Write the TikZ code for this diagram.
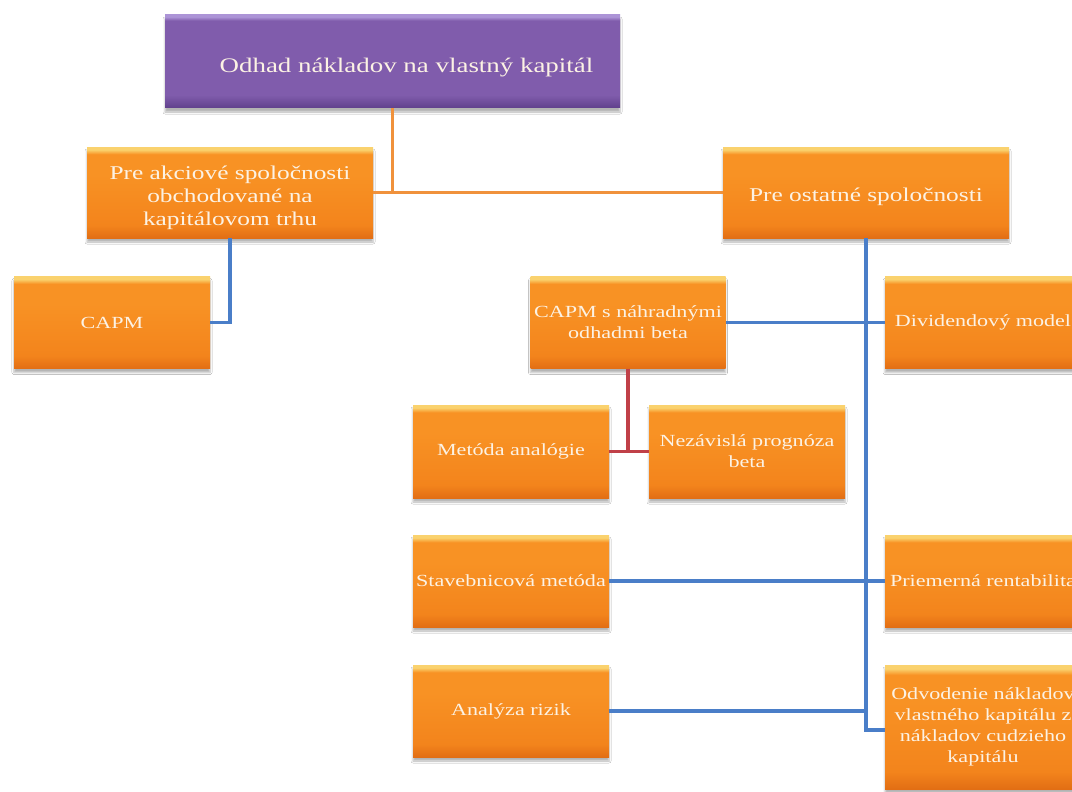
\documentclass[tikz,border=0pt]{standalone}
\usepackage{fontspec}
\setmainfont{Liberation Serif}[FakeStretch=1.3]
\usetikzlibrary{shadows.blur}
\definecolor{ot}{RGB}{250,210,110}
\definecolor{om}{RGB}{248,146,36}
\definecolor{om2}{RGB}{243,132,28}
\definecolor{ob}{RGB}{226,110,20}
\definecolor{pt}{RGB}{172,148,214}
\definecolor{pm}{RGB}{128,92,172}
\definecolor{pb}{RGB}{96,64,140}
\definecolor{txt}{RGB}{252,242,228}
\definecolor{lorange}{RGB}{240,146,60}
\definecolor{lblue}{RGB}{74,126,200}
\definecolor{lred}{RGB}{192,64,72}
\pgfdeclareverticalshading{orangeshade}{100bp}{color(0bp)=(ob); color(25bp)=(ob); color(32bp)=(om2); color(60bp)=(om); color(71bp)=(om); color(73.5bp)=(ot); color(75bp)=(ot); color(100bp)=(ot)}
\pgfdeclareverticalshading{purpleshade}{100bp}{color(0bp)=(pb); color(25bp)=(pb); color(32bp)=(pm); color(72bp)=(pm); color(74bp)=(pt); color(75bp)=(pt); color(100bp)=(pt)}
\tikzset{
  obox/.style={rectangle, inner sep=2pt, align=center, text=txt,
    shading=orangeshade, minimum width=196pt, minimum height=92pt,
    blur shadow={shadow xshift=0pt, shadow yshift=-4pt, shadow blur radius=2pt, shadow opacity=30},
    font=\fontsize{17}{21}\selectfont},
  bigbox/.style={obox, minimum width=286pt, minimum height=91pt,
    font=\fontsize{19.5}{23}\selectfont},
  pbox/.style={obox, shading=purpleshade, minimum width=455pt, minimum height=93pt,
    font=\fontsize{20.7}{25}\selectfont},
  oline/.style={draw=lorange, line width=3.5pt},
  bline/.style={draw=lblue, line width=3.5pt},
  rline/.style={draw=lred, line width=3.5pt},
}
\begin{document}
\begin{tikzpicture}[x=1pt,y=-1pt]
\useasboundingbox[fill=white] (0,0) rectangle (1072,792);
\node[pbox] (top) at (392.5,61.5) {\hspace*{28pt}\rule{0pt}{26pt}Odhad nákladov na vlastný kapitál};
\node[bigbox] (pa) at (230,192.5) {\rule{0pt}{25pt}Pre akciové spoločnosti\\obchodované na\\kapitálovom trhu};
\node[bigbox] (po) at (866,192.5) {\rule{0pt}{23pt}Pre ostatné spoločnosti};
\node[obox] (capm) at (112,322.5) {CAPM};
\node[obox, minimum width=195pt] (capms) at (628,322.5) {CAPM s náhradnými\\odhadmi beta};
\node[obox] (div) at (983,322.5) {Dividendový model};
\node[obox, minimum height=93pt] (ma) at (511,451.5) {Metóda analógie};
\node[obox, minimum height=93pt] (nez) at (747,451.5) {Nezávislá prognóza\\beta};
\node[obox] (stav) at (511,581) {Stavebnicová metóda};
\node[obox] (prie) at (983,581) {Priemerná rentabilita};
\node[obox] (anal) at (511,711) {Analýza rizik};
\node[obox, minimum height=124pt] (odv) at (983,727) {Odvodenie nákladov\\vlastného kapitálu z\\nákladov cudzieho\\kapitálu};
\coordinate (jo) at (866,730);
% orange connectors
\draw[oline] (top.south) -- (top.south |- pa.east);
\draw[oline] (pa.east) -- (po.west);
% blue connectors
\draw[bline] (pa.south) |- (capm.east);
\draw[bline] (po.south) -- (jo) -- (jo -| odv.west);
\draw[bline] (capms.east) -- (div.west);
\draw[bline] (stav.east) -- (prie.west);
\draw[bline] (anal.east) -- (anal.east -| jo);
% red connectors
\draw[rline] (capms.south) -- (capms.south |- ma.east);
\draw[rline] (ma.east) -- (nez.west);
\end{tikzpicture}
\end{document}
